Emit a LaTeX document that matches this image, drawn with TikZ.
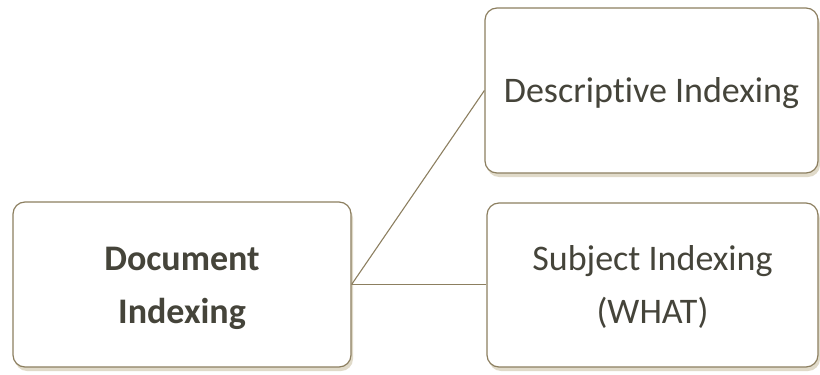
\documentclass[tikz,border=0pt]{standalone}
\usepackage{fontspec}
\setmainfont[Ligatures=CommonOff]{Carlito}
\usetikzlibrary{shadows}
\definecolor{edge}{HTML}{8C7F60}
\definecolor{shade}{HTML}{DDD6C3}
\definecolor{ink}{HTML}{45443A}
\tikzset{
  box/.style={draw=edge, line width=1.2pt, rounded corners=12pt, fill=white,
    drop shadow={shadow xshift=2pt, shadow yshift=-4pt, fill=shade, opacity=0.9},
    inner sep=0pt},
  txt/.style={text=ink, align=center, font=\fontsize{36}{53}\selectfont, inner sep=0pt},
  link/.style={draw=edge, line width=1.1pt}
}
\begin{document}
\begin{tikzpicture}[x=1pt,y=1pt]
\useasboundingbox (0,0) rectangle (820,-375);
\node[box, minimum width=338pt, minimum height=165pt] (doc) at (182,-284.5) {};
\node[box, minimum width=333pt, minimum height=165pt] (desc) at (651.5,-90.5) {};
\node[box, minimum width=331pt, minimum height=164pt] (subj) at (652.5,-285) {};
\node[txt] (doct) at ([yshift=-4pt]doc.center) {\textbf{Document}\\\textbf{Indexing}};
\node[txt] (desct) at ([yshift=-3pt]desc.center) {Descriptive Indexing};
\node[txt] (subjt) at ([yshift=-2pt]subj.center) {Subject Indexing\\(WHAT)};
\draw[link] (doc.east) -- (desc.west);
\draw[link] (doc.east) -- (subj.west |- doc.east);
\end{tikzpicture}
\end{document}
